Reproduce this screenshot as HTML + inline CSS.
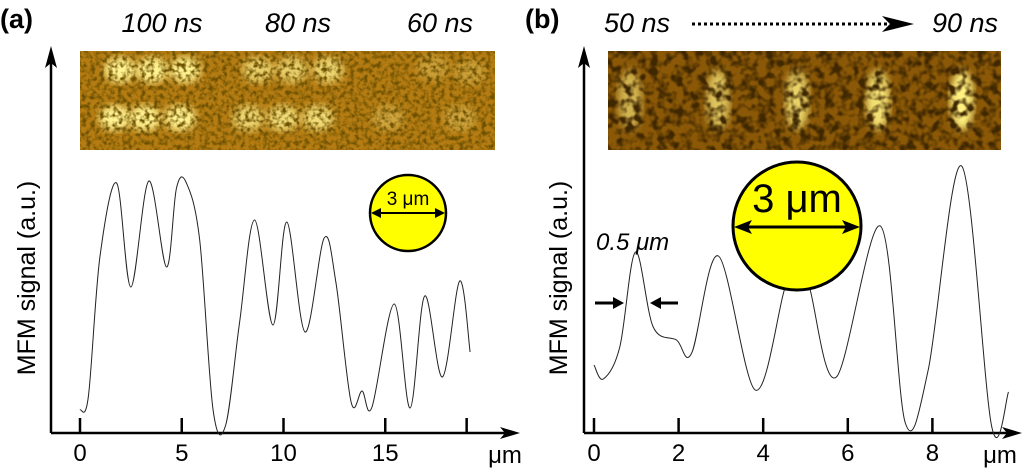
<!DOCTYPE html>
<html><head><meta charset="utf-8">
<style>
html,body{margin:0;padding:0;background:#fff;}
svg{display:block;font-family:"Liberation Sans",Arial,sans-serif;}
</style></head>
<body>
<svg id="fig" width="1024" height="468" viewBox="0 0 1024 468" xmlns="http://www.w3.org/2000/svg">
<defs>
  <filter id="noise" x="0" y="0" width="100%" height="100%">
    <feTurbulence type="fractalNoise" baseFrequency="0.22" numOctaves="2" seed="4"/>
    <feColorMatrix type="matrix" values="0 0 0 0 0.15  0 0 0 0 0.08  0 0 0 0 0  0 0 0 -3 1.75"/>
  </filter>
  <filter id="noise2" x="0" y="0" width="100%" height="100%">
    <feTurbulence type="fractalNoise" baseFrequency="0.12" numOctaves="2" seed="9"/>
    <feColorMatrix type="matrix" values="0 0 0 0 0.05  0 0 0 0 0.02  0 0 0 0 0  0 0 0 -3.4 2.0"/>
  </filter>
  <filter id="blur"><feGaussianBlur stdDeviation="4"/></filter>
  <clipPath id="clipA"><rect x="80" y="51" width="415" height="99"/></clipPath>
  <clipPath id="clipB"><rect x="608" y="51" width="393" height="99"/></clipPath>
</defs>

<text x="0" y="28" font-size="27" font-weight="bold">(a)</text>
<text x="525" y="28" font-size="27" font-weight="bold">(b)</text>
<text x="162" y="32" font-size="27" font-style="italic" text-anchor="middle">100 ns</text>
<text x="298" y="32" font-size="27" font-style="italic" text-anchor="middle">80 ns</text>
<text x="440" y="32" font-size="27" font-style="italic" text-anchor="middle">60 ns</text>
<text x="637" y="32" font-size="27" font-style="italic" text-anchor="middle">50 ns</text>
<line x1="692" y1="24" x2="900" y2="24" stroke="#000" stroke-width="3" stroke-dasharray="3,3"/>
<path d="M882,16 L914,24 L882,32 L890,24 Z" fill="#000"/>
<text x="965" y="32" font-size="27" font-style="italic" text-anchor="middle">90 ns</text>

<g clip-path="url(#clipA)" id="imgA">
  <rect x="80" y="51" width="415" height="99" fill="#b47c12"/>
</g>
<g clip-path="url(#clipB)" id="imgB">
  <rect x="608" y="51" width="393" height="99" fill="#8a5806"/>
</g>

<g id="plotA"></g>
<g id="plotB"></g>

<g>
  <circle cx="408" cy="213" r="38" fill="#ffff00" stroke="#000" stroke-width="2.5"/>
  <text x="408" y="205" font-size="19" text-anchor="middle">3 μm</text>
  <line x1="376" y1="213" x2="440" y2="213" stroke="#000" stroke-width="2"/>
  <path d="M371,213 L381,208 L381,218 Z" fill="#000"/>
  <path d="M445,213 L435,208 L435,218 Z" fill="#000"/>
</g>
<g>
  <circle cx="797" cy="226" r="64" fill="#ffff00" stroke="#000" stroke-width="3"/>
  <text x="797" y="212" font-size="40" text-anchor="middle">3 μm</text>
  <line x1="740" y1="227" x2="854" y2="227" stroke="#000" stroke-width="3"/>
  <path d="M734,227 L752,220 L748,227 L752,234 Z" fill="#000"/>
  <path d="M860,227 L842,220 L846,227 L842,234 Z" fill="#000"/>
</g>
<g>
  <text x="596" y="250" font-size="24" font-style="italic">0.5 μm</text>
  <line x1="595" y1="303" x2="618" y2="303" stroke="#000" stroke-width="3"/>
  <path d="M624,303 L613,297 L613,309 Z" fill="#000"/>
  <line x1="678" y1="303" x2="656" y2="303" stroke="#000" stroke-width="3"/>
  <path d="M650,303 L661,297 L661,309 Z" fill="#000"/>
</g>
</svg>

<script>
// ---- data ----
const posA = [0,0.41,0.98,1.80,2.50,3.38,4.25,4.74,5.23,5.88,6.54,7.16,7.84,8.58,9.48,10.16,11.06,12.0,12.58,13.32,13.86,14.35,15.44,16.22,16.94,17.81,18.66,19.17];
const sigA = [23,36,176,250,146,252,166,245,250,193,23,8,110,213,108,211,101,195,150,31,42,26,129,25,137,56,152,81];
const ticksA = [0,5,10,15,19];
const tickLabelsA = ["0","5","10","15",""];
const posB = [0,0.22,0.61,0.98,1.40,1.95,2.31,2.94,3.81,4.48,4.80,5.11,5.73,6.77,7.36,7.90,8.69,9.40,9.80];
const sigB = [68,54,86,181,106,93,80,177,43,140,200,143,56,207,10,63,267,7,41];
const ticksB = [0,2,4,6,8];
const tickLabelsB = ["0","2","4","6","8"];
const blobsA = [[120,70],[152,70],[185,70],[258,70],[292,70],[328,70],[433,68],[470,72],[115,118],[145,118],[180,118],[248,118],[283,118],[318,118],[388,118],[460,118]];
const blobBrightA = [1,1,1,0.7,0.7,0.75,0.3,0.3,1,1,1,0.75,0.8,0.8,0.35,0.35];
const blobsB = [630,718,797,878,962];

const NS = "http://www.w3.org/2000/svg";
function mk(tag, attrs, parent){const e=document.createElementNS(NS,tag);for(const k in attrs)e.setAttribute(k,attrs[k]);parent.appendChild(e);return e;}

function smoothPath(pts){
  let d = "M"+pts[0][0].toFixed(1)+","+pts[0][1].toFixed(1);
  for(let i=0;i<pts.length-1;i++){
    const p0=pts[Math.max(0,i-1)],p1=pts[i],p2=pts[i+1],p3=pts[Math.min(pts.length-1,i+2)];
    const c1=[p1[0]+(p2[0]-p0[0])/6,p1[1]+(p2[1]-p0[1])/6];
    const c2=[p2[0]-(p3[0]-p1[0])/6,p2[1]-(p3[1]-p1[1])/6];
    d+=" C"+c1[0].toFixed(1)+","+c1[1].toFixed(1)+" "+c2[0].toFixed(1)+","+c2[1].toFixed(1)+" "+p2[0].toFixed(1)+","+p2[1].toFixed(1);
  }
  return d;
}

function drawPlot(g, cfg){
  const xs = v => cfg.x0 + v*cfg.kx;
  const ys = v => 433 - v;
  const ya = mk("line",{x1:cfg.ax,y1:433,x2:cfg.ax,y2:52,stroke:"#000","stroke-width":2.5},g);
  
  
  mk("path",{d:`M${cfg.ax-6},68 L${cfg.ax},46 L${cfg.ax+6},68 L${cfg.ax},63 Z`,fill:"#000"},g);
  const xa = mk("line",{x1:cfg.ax,y1:433,x2:cfg.xend-6,y2:433,stroke:"#000","stroke-width":2.5},g);
  
  
  mk("path",{d:`M${cfg.xend-20},427 L${cfg.xend},433 L${cfg.xend-20},439 L${cfg.xend-15},433 Z`,fill:"#000"},g);
  cfg.ticks.forEach((t,i)=>{
    const tk = mk("line",{x1:xs(t),y1:418,x2:xs(t),y2:433,stroke:"#000","stroke-width":2.5},g);
    
    
    if(cfg.labels[i]){
      const tl = mk("text",{x:xs(t),y:461,"font-size":24,"text-anchor":"middle"},g);
      tl.textContent = cfg.labels[i];
      
      
    }
  });
  const u = mk("text",{x:cfg.unitX,y:463,"font-size":24,"text-anchor":"middle"},g);
  u.textContent="μm";
  
  
  const yl = mk("text",{x:0,y:0,"font-size":25,"text-anchor":"middle",transform:`translate(${cfg.ylx},278) rotate(-90)`},g);
  yl.textContent="MFM signal (a.u.)";
  
  
  const pts = cfg.pos.map((p,i)=>[xs(p),ys(cfg.sig[i])]);
  const line = mk("path",{d:smoothPath(pts),fill:"none",stroke:"#222","stroke-width":1},g);
  
  
}

drawPlot(document.getElementById("plotA"),{x0:80,kx:20.35,ax:51,xend:520,ticks:ticksA,labels:tickLabelsA,unitX:505,ylx:35,pos:posA,sig:sigA});
drawPlot(document.getElementById("plotB"),{x0:594,kx:42.3,ax:584,xend:1022,ticks:ticksB,labels:tickLabelsB,unitX:1000,ylx:567,pos:posB,sig:sigB});

const gA=document.getElementById("imgA");
blobsA.forEach((b,i)=>{
  const e=mk("ellipse",{cx:b[0],cy:b[1],rx:16,ry:13,fill:"#fff290","fill-opacity":blobBrightA[i],filter:"url(#blur)"},gA);
  
  
});
mk("rect",{x:80,y:51,width:415,height:99,filter:"url(#noise)"},gA);
const gB=document.getElementById("imgB");
blobsB.forEach((x,i)=>{
  const e=mk("ellipse",{cx:x,cy:100,rx:12,ry:30,fill:"#fff080","fill-opacity":0.6+0.1*i,filter:"url(#blur)"},gB);
  
  
});
mk("rect",{x:608,y:51,width:393,height:99,filter:"url(#noise2)"},gB);
</script>
</body></html>
